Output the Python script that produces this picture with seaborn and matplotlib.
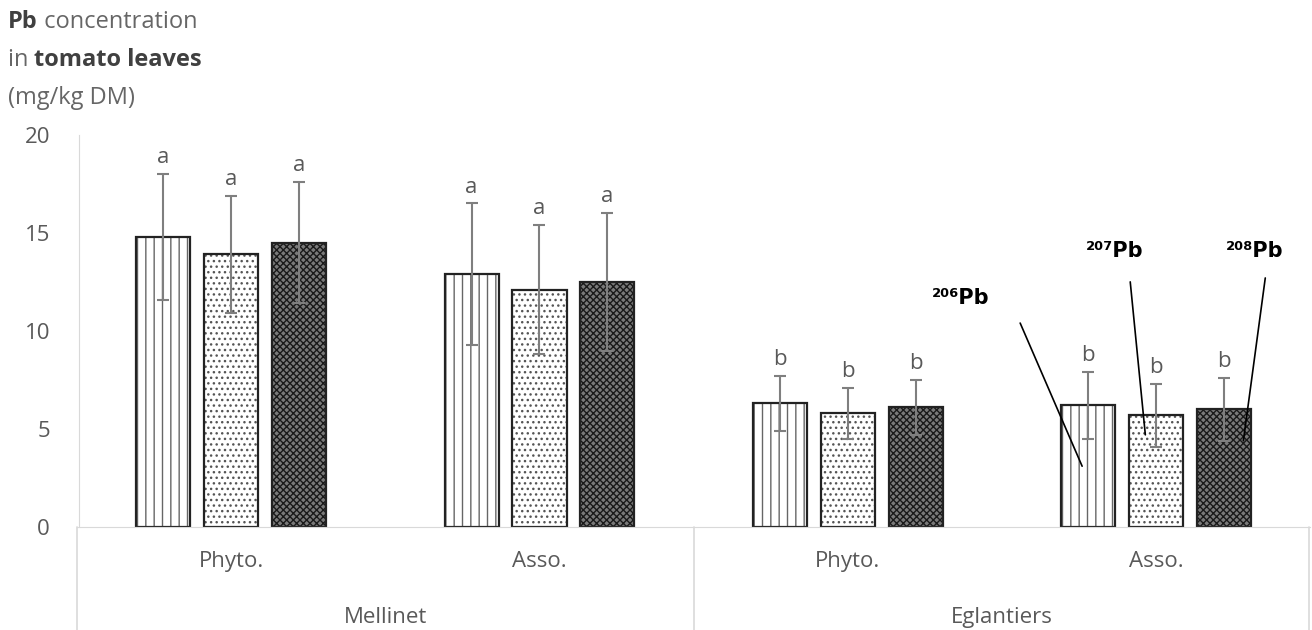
import numpy as np
import pandas as pd
import seaborn as sns
import matplotlib.pyplot as plt
from matplotlib.colors import to_rgba
from matplotlib.transforms import blended_transform_factory

sites = ["Mellinet", "Mellinet", "Eglantiers", "Eglantiers"]
treatments = ["Phyto.", "Asso.", "Phyto.", "Asso."]
isotopes = ["206Pb", "207Pb", "208Pb"]

pb206 = [14.8, 12.9, 6.3, 6.2]
pb207 = [13.9, 12.1, 5.8, 5.7]
pb208 = [14.5, 12.5, 6.1, 6.0]
err206 = [3.2, 3.6, 1.4, 1.7]
err207 = [3.0, 3.3, 1.3, 1.6]
err208 = [3.1, 3.5, 1.4, 1.6]
letters = ["a", "a", "b", "b"]

sns.set_style("white")
plt.rcParams['font.family'] = ['Open Sans', 'DejaVu Sans']
plt.rcParams['hatch.linewidth'] = 1.0

keys = [s + " " + t for s, t in zip(sites, treatments)]
rows = []
for iso, vals, errs in zip(isotopes, [pb206, pb207, pb208], [err206, err207, err208]):
    for k, v, e, l in zip(keys, vals, errs, letters):
        rows.append({"group": k, "isotope": iso, "value": v, "err": e, "letter": l})
df = pd.DataFrame(rows)

fig = plt.figure(figsize=(13.12, 6.3), dpi=100)
ax = fig.add_axes([0.0587, 0.1635, 0.94, 0.6225])

sns.barplot(data=df, x="group", y="value", hue="isotope", order=keys, hue_order=isotopes,
            width=0.66, gap=0.2, errorbar=None, legend=False, ax=ax,
            palette=["white", "white", "#7a7a7a"], edgecolor="#222222", linewidth=1.6)

hatches = ["||", "...", "xxxxx"]
hatch_cols = ["#666666", "#555555", "#1a1a1a"]
bar_conts = list(ax.containers)
for i, cont in enumerate(bar_conts):
    sub = df[df.isotope == isotopes[i]]
    for bar, (_, r) in zip(cont, sub.iterrows()):
        bar.set_hatch(hatches[i])
        bar._hatch_color = to_rgba(hatch_cols[i])
        xc = bar.get_x() + bar.get_width() / 2
        ax.errorbar(xc, r["value"], yerr=r["err"], color="#7f7f7f", capsize=4.5,
                    elinewidth=1.5, capthick=1.5, zorder=5)
        ax.text(xc, r["value"] + r["err"] + 0.3, r["letter"], ha="center", va="bottom",
                fontsize=16, color="#595959")

ax.set_ylim(0, 20)
ax.set_xlim(-0.5, 3.5)
ax.set_yticks([0, 5, 10, 15, 20])
ax.tick_params(axis="y", labelsize=16, labelcolor="#595959", length=0, pad=21)
ax.set_xticks(range(4))
ax.set_xticklabels(treatments)
ax.tick_params(axis="x", labelsize=16, labelcolor="#595959", length=0, pad=17)
ax.set_xlabel("")
ax.set_ylabel("")
for s in ["top", "right"]:
    ax.spines[s].set_visible(False)
ax.spines["left"].set_color("#d9d9d9")
ax.spines["bottom"].set_color("#d9d9d9")
ax.spines["left"].set_position(("data", -0.493))

# category separators
tr = blended_transform_factory(ax.transData, ax.transAxes)
for xv in [-0.5, 1.5, 3.495]:
    ax.plot([xv, xv], [0, -0.265], color="#d9d9d9", lw=1.2, transform=tr, clip_on=False)
for xv, name in [(0.5, "Mellinet"), (2.5, "Eglantiers")]:
    ax.text(xv, -0.23, name, transform=tr, ha="center", va="center", fontsize=16, color="#595959")

# isotope labels
ann = [("²⁰⁶Pb", (2.365, 11.7), (2.559, 10.4), (2.76, 3.1)),
       ("²⁰⁷Pb", (2.867, 14.1), (2.916, 12.5), (2.965, 4.7)),
       ("²⁰⁸Pb", (3.32, 14.1), (3.354, 12.7), (3.283, 4.4))]
for txt, tpos, p0, p1 in ann:
    ax.text(tpos[0], tpos[1], txt, ha="center", va="center", fontsize=15,
            fontweight="bold", color="black", family=["DejaVu Sans"], zorder=6)
    ax.plot([p0[0], p1[0]], [p0[1], p1[1]], color="black", lw=1.2, zorder=6)

# y axis title, mixed bold / regular pieces placed one after another
title_lines = [[("Pb", "bold", "#404040"), (" concentration", "normal", "#666666")],
               [("in ", "normal", "#666666"), ("tomato leaves", "bold", "#404040")],
               [("(mg/kg DM)", "normal", "#666666")]]
line_y = [0.965, 0.905, 0.845]
renderer = fig.canvas.get_renderer()
for parts, yy in zip(title_lines, line_y):
    xx = 8 / 1312
    for txt, wt, col in parts:
        t = fig.text(xx, yy, txt, fontsize=17, fontweight=wt, color=col, va="center")
        bb = t.get_window_extent(renderer=renderer)
        xx += bb.width / 1312

fig.savefig("out.png", dpi=100)
